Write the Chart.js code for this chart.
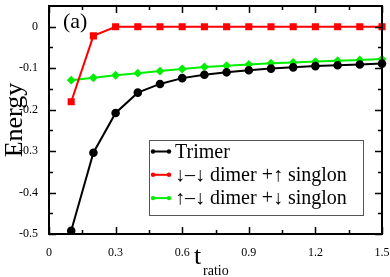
<!DOCTYPE html>
<html>
<head>
<meta charset="utf-8">
<script src="https://cdn.jsdelivr.net/npm/chart.js@4/dist/chart.umd.min.js"></script>
<style>
html,body{margin:0;padding:0;background:#fff;}
#wrap{width:390px;height:277px;position:relative;}
</style>
</head>
<body>
<div id="wrap"><canvas id="c"></canvas></div>
<script>
// ---- data ----
const tRatio = [0.1,0.2,0.3,0.4,0.5,0.6,0.7,0.8,0.9,1.0,1.1,1.2,1.3,1.4,1.5];
const trimer = [-0.492,-0.304,-0.208,-0.159,-0.138,-0.124,-0.116,-0.110,-0.105,-0.101,-0.098,-0.095,-0.093,-0.091,-0.089];
const downDownDimer = [-0.181,-0.022,0,0,0,0,0,0,0,0,0,0,0,0,0];
const upDownDimer = [-0.129,-0.123,-0.117,-0.112,-0.107,-0.102,-0.097,-0.094,-0.091,-0.088,-0.086,-0.084,-0.082,-0.080,-0.078];
const seriesLabels = ['Trimer','\u2193\u2013\u2193 dimer +\u2191 singlon','\u2191\u2013\u2193 dimer +\u2193 singlon'];
const xMajorTicks = [0,0.3,0.6,0.9,1.2,1.5];
const xMinorTicks = [0.15,0.45,0.75,1.05,1.35];
const yMajorTicks = [-0.5,-0.4,-0.3,-0.2,-0.1,0];
const yMinorTicks = [-0.45,-0.35,-0.25,-0.15,-0.05];
const panelLabel = '(a)';
const yTitle = 'Energy';
const xTitleMain = 't';
const xTitleSub = 'ratio';

const SERIF = '"Liberation Serif","Times New Roman",serif';
const pts = arr => arr.map((v,i)=>({x:tRatio[i], y:v}));

const frameTicks = {
  id:'frameTicks',
  afterDatasetsDraw(chart){
    const {ctx, chartArea:a, scales:{x,y}} = chart;
    ctx.save();
    ctx.strokeStyle='#000';
    ctx.lineWidth=2;
    ctx.strokeRect(a.left, a.top, a.right-a.left, a.bottom-a.top);
    ctx.lineWidth=1.5;
    const tick=(vals,len,isX)=>{
      vals.forEach(v=>{
        ctx.beginPath();
        if(isX){
          const px=Math.round(x.getPixelForValue(v))+0.5;
          ctx.moveTo(px,a.bottom); ctx.lineTo(px,a.bottom-len);
          ctx.moveTo(px,a.top); ctx.lineTo(px,a.top+len);
        } else {
          const py=Math.round(y.getPixelForValue(v))+0.5;
          ctx.moveTo(a.left,py); ctx.lineTo(a.left+len,py);
          ctx.moveTo(a.right,py); ctx.lineTo(a.right-len,py);
        }
        ctx.stroke();
      });
    };
    tick(xMajorTicks,7,true); tick(xMinorTicks,4,true);
    tick(yMajorTicks,7,false); tick(yMinorTicks,4,false);

    // panel label
    ctx.fillStyle='#000';
    ctx.font='22px '+SERIF;
    ctx.textBaseline='alphabetic';
    ctx.textAlign='left';
    ctx.fillText(panelLabel, 63, 28);

    // x title with subscript
    const cx=(a.left+a.right)/2;
    ctx.font='26px '+SERIF;
    ctx.fillText(xTitleMain, 194, 264);
    ctx.font='14px '+SERIF;
    ctx.fillText(xTitleSub, 203, 275);

    // legend
    const lx=149, ly=140, lw=214, lh=75;
    ctx.fillStyle='#fff';
    ctx.fillRect(lx,ly,lw,lh);
    ctx.strokeStyle='#555';
    ctx.lineWidth=1;
    ctx.strokeRect(lx+0.5,ly+0.5,lw,lh);
    ctx.font='20px '+SERIF;
    ctx.textBaseline='middle';
    chart.data.datasets.forEach((ds,i)=>{
      const yy=151.5+i*23.3;
      ctx.strokeStyle=ds.borderColor;
      ctx.fillStyle=ds.borderColor;
      ctx.lineWidth=2;
      ctx.beginPath(); ctx.moveTo(153,yy); ctx.lineTo(169,yy); ctx.stroke();
      [153,169].forEach(px=>{ctx.beginPath();ctx.arc(px,yy,2.2,0,Math.PI*2);ctx.fill();});
      ctx.fillStyle='#000';
      ctx.fillText(ds.label, 175, yy+1);
    });
    ctx.restore();
  }
};

new Chart(document.getElementById('c'), {
  type:'line',
  data:{
    datasets:[
      {label:seriesLabels[0], data:pts(trimer), borderColor:'#000', backgroundColor:'#000', pointStyle:'circle', pointRadius:3.3, borderWidth:2, clip:false},
      {label:seriesLabels[1], data:pts(downDownDimer), borderColor:'#ff0000', backgroundColor:'#ff0000', pointStyle:'rect', pointRadius:3.6, borderWidth:2, clip:false},
      {label:seriesLabels[2], data:pts(upDownDimer), borderColor:'#00ee00', backgroundColor:'#00ee00', pointStyle:'rectRot', pointRadius:3, borderWidth:2, clip:false}
    ]
  },
  options:{
    responsive:true, maintainAspectRatio:false, animation:false,
    layout:{padding:{top:1,right:8,left:0,bottom:0}},
    elements:{line:{tension:0}, point:{borderWidth:0}},
    plugins:{legend:{display:false}, tooltip:{enabled:false}},
    scales:{
      x:{
        type:'linear', min:0, max:1.5,
        grid:{display:false}, border:{display:false},
        afterBuildTicks: s=>{ s.ticks = xMajorTicks.map(v=>({value:v})); },
        ticks:{font:{family:SERIF,size:12}, color:'#000', padding:4, maxRotation:0, autoSkip:false,
          callback:v=>String(Math.round(v*10)/10)},
        afterFit: s=>{ s.height=43; s.paddingLeft=0; s.paddingRight=0; }
      },
      y:{
        type:'linear', min:-0.5, max:0.05,
        grid:{display:false}, border:{display:false},
        afterBuildTicks: s=>{ s.ticks = yMajorTicks.map(v=>({value:v})); },
        ticks:{font:{family:SERIF,size:12}, color:'#000', padding:3, autoSkip:false,
          callback:v=>String(Math.round(v*10)/10)},
        title:{display:true, text:yTitle, font:{family:SERIF,size:26}, color:'#000', padding:{top:0,bottom:0}},
        afterFit: s=>{ s.width=49; s.paddingTop=0; s.paddingBottom=0; }
      }
    }
  },
  plugins:[frameTicks]
});
</script>
</body>
</html>
